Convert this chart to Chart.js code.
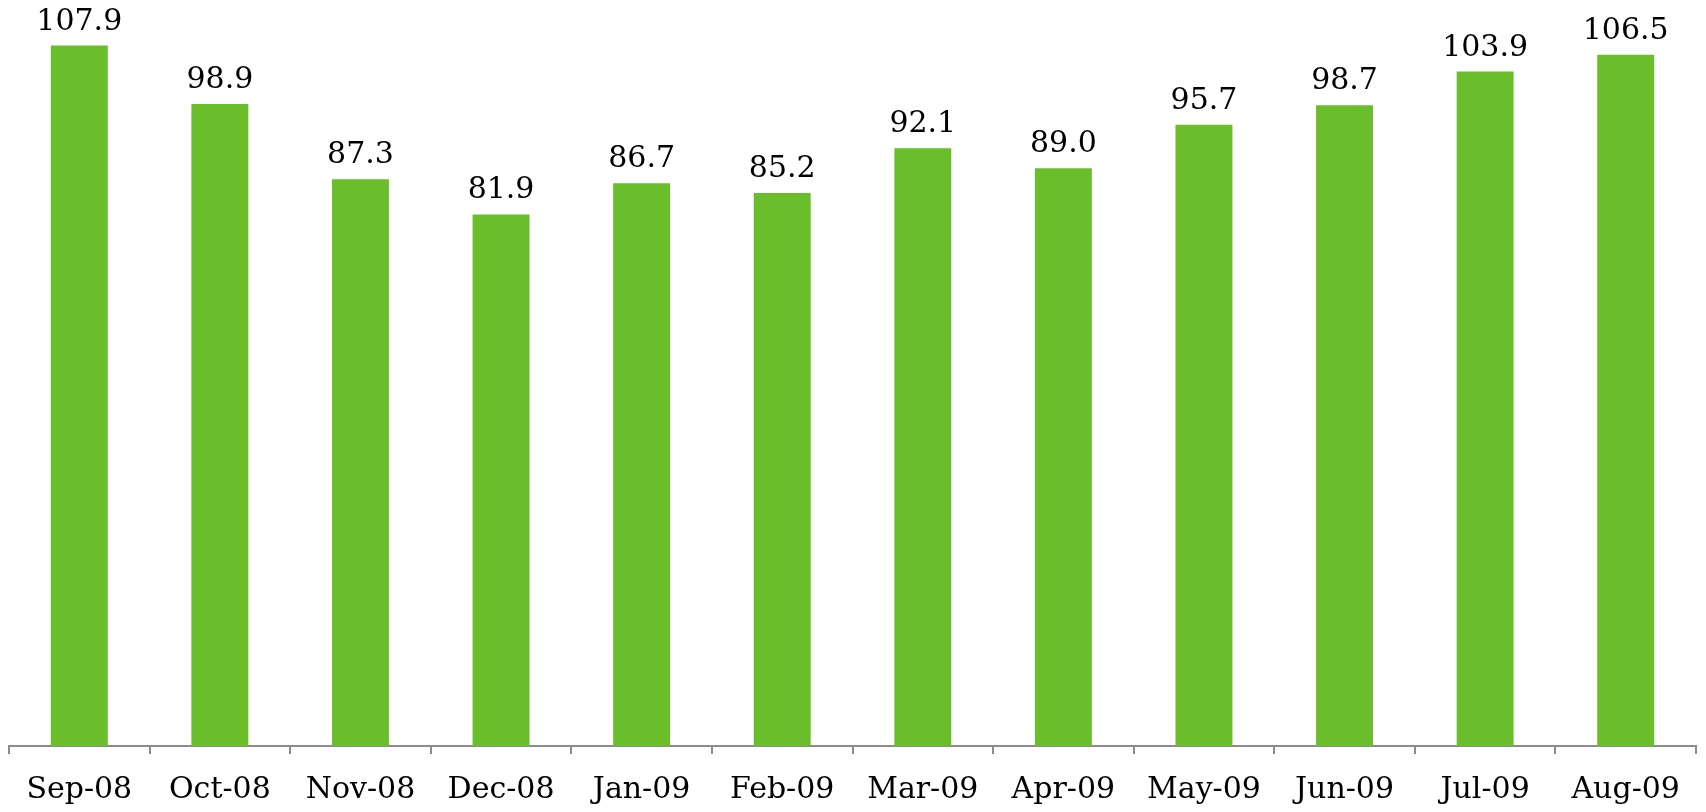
<!DOCTYPE html>
<html>
<head>
<meta charset="utf-8">
<script src="https://cdn.jsdelivr.net/npm/chart.js@4.4.1/dist/chart.umd.min.js"></script>
<style>
  html, body { margin: 0; padding: 0; background: #fff; overflow: hidden; }
  .wrap { width: 1706px; height: 812px; position: relative; }
  canvas { display: block; }
</style>
</head>
<body>
<div class="wrap">
  <canvas id="barras"></canvas>
</div>
<script>
var meses = ["Sep-08", "Oct-08", "Nov-08", "Dec-08", "Jan-09", "Feb-09", "Mar-09", "Apr-09", "May-09", "Jun-09", "Jul-09", "Aug-09"];
var valores = [107.9, 98.9, 87.3, 81.9, 86.7, 85.2, 92.1, 89.0, 95.7, 98.7, 103.9, 106.5];

var verde = "#6abd2b";
var fonte = "'DejaVu Serif', Georgia, serif";

// rótulos de valor acima das barras
var rotulos = {
    id: 'rotulos',
    afterDatasetsDraw: function(chart) {
        var ctx = chart.ctx;
        var meta = chart.getDatasetMeta(0);
        ctx.save();
        ctx.font = "30px " + fonte;
        ctx.fillStyle = "#000";
        ctx.textAlign = "center";
        ctx.textBaseline = "alphabetic";
        meta.data.forEach(function(bar, i) {
            ctx.fillText(valores[i].toFixed(1), bar.x, bar.y - 16);
        });
        ctx.restore();
    }
};

var ctx = document.getElementById('barras').getContext('2d');
var chart = new Chart(ctx, {
    type: 'bar',
    data: {
        labels: meses,
        datasets: [{
            data: valores,
            backgroundColor: verde,
            borderWidth: 0,
            barPercentage: 0.405,
            categoryPercentage: 1
        }]
    },
    options: {
        responsive: true,
        maintainAspectRatio: false,
        animation: false,
        layout: { padding: { top: 19, left: 9, right: 10, bottom: -14 } },
        plugins: {
            legend: { display: false },
            tooltip: { enabled: false }
        },
        scales: {
            x: {
                grid: {
                    offset: true,
                    drawOnChartArea: false,
                    drawTicks: true,
                    tickLength: 8,
                    color: "#8c8c8c",
                    lineWidth: 2
                },
                border: { display: true, color: "#8c8c8c", width: 2 },
                ticks: {
                    color: "#000",
                    padding: 18,
                    maxRotation: 0,
                    autoSkip: false,
                    font: { family: fonte, size: 30 }
                }
            },
            y: {
                display: false,
                min: 0,
                max: 112
            }
        }
    },
    plugins: [rotulos]
});
</script>
</body>
</html>
